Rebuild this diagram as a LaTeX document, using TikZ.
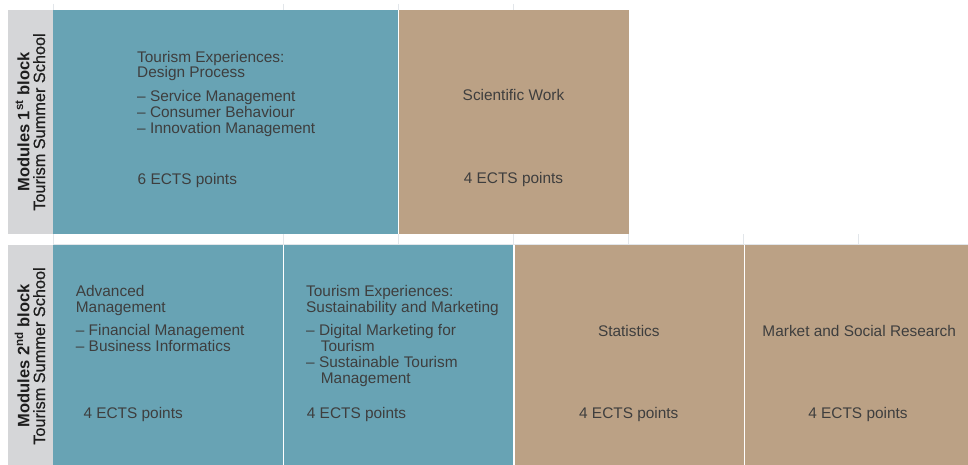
\documentclass[tikz,border=0pt]{standalone}
\usepackage{fontspec}
\setmainfont{Liberation Sans}
\newfontfamily\labmedium{Liberation Sans}[FakeBold=0.6]
\definecolor{cellblue}{HTML}{68A3B4}
\definecolor{celltan}{HTML}{BBA185}
\definecolor{cellgrey}{HTML}{D5D6D8}
\definecolor{txtcol}{HTML}{3E3E3E}
\definecolor{labcol}{HTML}{1E1E1E}
\definecolor{gridcol}{HTML}{E2E6EA}
\begin{document}
\begin{tikzpicture}[x=1pt,y=-1pt,
  txt/.style={anchor=base west, inner sep=0pt, text=txtcol, font=\fontsize{15.4}{16}\selectfont},
  txtc/.style={anchor=base, inner sep=0pt, text=txtcol, font=\fontsize{15.4}{16}\selectfont},
  labbold/.style={anchor=base, rotate=90, inner sep=0pt, text=labcol, font=\fontsize{16.5}{16}\selectfont\bfseries},
  labreg/.style={anchor=base, rotate=90, inner sep=0pt, text=labcol, font=\labmedium\fontsize{16.3}{16}\selectfont},
  gridline/.style={draw=gridcol, line width=1pt}]
\useasboundingbox (0,0) rectangle (968,465);
\fill[white] (0,0) rectangle (968,465);
% faint table grid lines
\foreach \gx in {53,283,398,513} \draw[gridline] (\gx,4) -- (\gx,10);
\foreach \gx in {53,283,398,513,628,743,858} \draw[gridline] (\gx,234) -- (\gx,245);
\draw[gridline] (53,244.5) -- (968,244.5);
% top row
\fill[cellgrey] (8,10) rectangle (53,234);
\fill[cellblue] (53,10) rectangle (398,234);
\fill[celltan] (399,10) rectangle (628.5,234);
% bottom row
\fill[cellgrey] (8,245) rectangle (53,465);
\fill[cellblue] (53,245) rectangle (283,465);
\fill[cellblue] (284,245) rectangle (513,465);
\fill[celltan] (514.5,245) rectangle (743.5,465);
\fill[celltan] (745,245) rectangle (968,465);
% left labels
\node[labbold] (l1a) at (29.3,122) {Modules 1\textsuperscript{st} block};
\node[labreg] (l1b) at (45,122) {Tourism Summer School};
\node[labbold] (l2a) at (29.3,356) {Modules 2\textsuperscript{nd} block};
\node[labreg] (l2b) at (45,356) {Tourism Summer School};
% top blue
\node[txt] (t1a) at (137,62.3) {Tourism Experiences:};
\node[txt] (t1b) at (137,77.7) {Design Process};
\node[txt] (t1c) at (137,102) {– Service Management};
\node[txt] (t1d) at (137,118) {– Consumer Behaviour};
\node[txt] (t1e) at (137,134) {– Innovation Management};
\node[txt] (t1f) at (137.5,185) {6 ECTS points};
% top tan
\node[txtc] (t2a) at (513.5,101) {Scientific Work};
\node[txtc] (t2b) at (513.5,183.3) {4 ECTS points};
% bottom blue 1
\node[txt] (b1a) at (75.7,296.7) {Advanced};
\node[txt] (b1b) at (75.7,312.7) {Management};
\node[txt] (b1c) at (75.7,335.3) {– Financial Management};
\node[txt] (b1d) at (75.7,351.3) {– Business Informatics};
\node[txt] (b1e) at (83.3,418.5) {4 ECTS points};
% bottom blue 2
\node[txt] (b2a) at (306,296.7) {Tourism Experiences:};
\node[txt] (b2b) at (306,312.7) {Sustainability and Marketing};
\node[txt] (b2c) at (306,335.3) {– Digital Marketing for};
\node[txt] (b2d) at (320.7,351.3) {Tourism};
\node[txt] (b2e) at (306,367.3) {– Sustainable Tourism};
\node[txt] (b2f) at (320.7,383.3) {Management};
\node[txt] (b2g) at (306.7,418.3) {4 ECTS points};
% bottom tan 1
\node[txtc] (b3a) at (628.8,336.7) {Statistics};
\node[txtc] (b3b) at (628.8,418.3) {4 ECTS points};
% bottom tan 2
\node[txtc] (b4a) at (859.2,336.7) {Market and Social Research};
\node[txtc] (b4b) at (858,418.3) {4 ECTS points};
\end{tikzpicture}
\end{document}
